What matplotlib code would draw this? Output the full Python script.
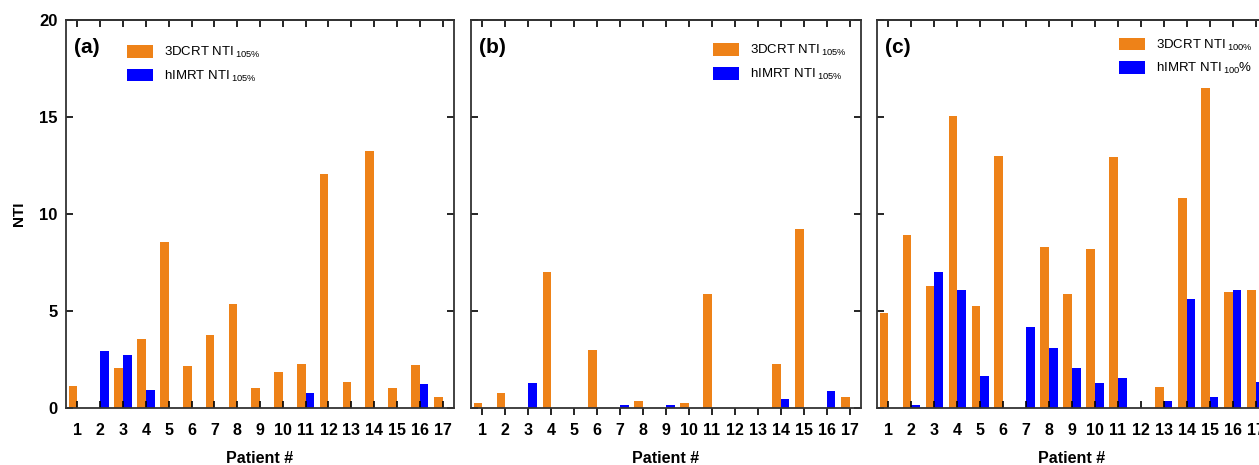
import numpy as np
import matplotlib
matplotlib.use("Agg")
import matplotlib.pyplot as plt

plt.rcParams["font.family"] = ["Liberation Sans", "DejaVu Sans"]

# patient numbers
patients = np.arange(1, 18)

# (a) NTI 105%
a_3dcrt = [1.13, 0, 2.05, 3.56, 8.57, 2.16, 3.74, 5.36, 1.05, 1.86, 2.25, 12.08, 1.36, 13.26, 1.05, 2.23, 0.57]
a_himrt = [0, 2.95, 2.75, 0.93, 0, 0, 0, 0, 0, 0, 0.76, 0, 0, 0, 0, 1.25, 0]

# (b) NTI 105%
b_3dcrt = [0.27, 0.76, 0, 7.0, 0, 2.97, 0, 0.36, 0, 0.27, 5.88, 0, 0, 2.27, 9.21, 0, 0.57]
b_himrt = [0, 0, 1.27, 0, 0, 0, 0.17, 0, 0.17, 0, 0, 0, 0, 0.46, 0, 0.88, 0]

# (c) NTI 100%
c_3dcrt = [4.88, 8.92, 6.29, 15.03, 5.27, 13.0, 0, 8.28, 5.88, 8.2, 12.92, 0, 1.07, 10.81, 16.51, 5.98, 6.07]
c_himrt = [0, 0.15, 7.01, 6.07, 1.67, 0, 4.18, 3.08, 2.08, 1.27, 1.56, 0, 0.36, 5.6, 0.57, 6.07, 1.36]

panel_tags = ["(a)", "(b)", "(c)"]
legend_labels = [
    ("3DCRT NTI$\\,_{\\mathregular{105\\%}}$", "hIMRT NTI$\\,_{\\mathregular{105\\%}}$"),
    ("3DCRT NTI$\\,_{\\mathregular{105\\%}}$", "hIMRT NTI$\\,_{\\mathregular{105\\%}}$"),
    ("3DCRT NTI$\\,_{\\mathregular{100\\%}}$", "hIMRT NTI$\\,_{\\mathregular{100}}$%"),
]

orange = "#EE8218"
blue = "#0000FF"
bw = 0.38

fig = plt.figure(figsize=(12.59, 4.65), dpi=100)
W, H = 1259, 465
boxes = [(66, 388), (471, 390), (877, 390)]
top, bottom = 20, 408
legend_pos = [(0.157, 0.936), (0.62, 0.94), (0.62, 0.955)]

data = [(a_3dcrt, a_himrt), (b_3dcrt, b_himrt), (c_3dcrt, c_himrt)]

for i, ((left, width), (d3, dh)) in enumerate(zip(boxes, data)):
    ax = fig.add_axes([left / W, 1 - bottom / H, width / W, (bottom - top) / H])
    ax.bar(patients - bw / 2, d3, width=bw, color=orange, label=legend_labels[i][0])
    ax.bar(patients + bw / 2, dh, width=bw, color=blue, label=legend_labels[i][1])
    ax.set_xlim(0.5, 17.5)
    ax.set_ylim(0, 20)
    ax.set_xticks(patients)
    ax.set_yticks([0, 5, 10, 15, 20])
    ax.set_xticklabels([str(p) for p in patients], fontsize=11.5, fontweight="bold")

    # bottom ticks: inward for (a),(c), outward for (b); top ticks always inward
    if i == 1:
        ax.tick_params(axis="x", direction="out", top=False, length=5, width=1.2, pad=6)
    else:
        ax.tick_params(axis="x", direction="in", top=False, length=5, width=1.2, pad=11)
    sec = ax.secondary_xaxis("top")
    sec.set_xticks(patients)
    sec.set_xticklabels([])
    sec.tick_params(direction="in", length=5, width=1.2)
    sec.spines["top"].set_linewidth(1.3)
    sec.spines["top"].set_color("#333333")

    ax.tick_params(axis="y", direction="in", right=True, length=5, width=1.2, pad=6)
    if i == 0:
        ax.set_yticklabels(["0", "5", "10", "15", "20"], fontsize=12, fontweight="bold")
        ax.set_ylabel("NTI", fontsize=11, fontweight="bold")
        ax.yaxis.set_label_coords(-0.103, 0.5)
    else:
        ax.set_yticklabels([])
    for s in ax.spines.values():
        s.set_linewidth(1.3)
        s.set_color("#333333")
    ax.set_xlabel("Patient #", fontsize=11.5, fontweight="bold", labelpad=9)
    ax.text(0.02, 0.93, panel_tags[i], transform=ax.transAxes, fontsize=15,
            fontweight="bold", va="center", ha="left")
    ax.legend(loc="upper left", bbox_to_anchor=legend_pos[i], frameon=False,
              fontsize=9.5, handlelength=2.0, handleheight=1.1,
              handletextpad=0.8, labelspacing=0.65, borderpad=0, borderaxespad=0)

fig.savefig("out.png", dpi=100)
